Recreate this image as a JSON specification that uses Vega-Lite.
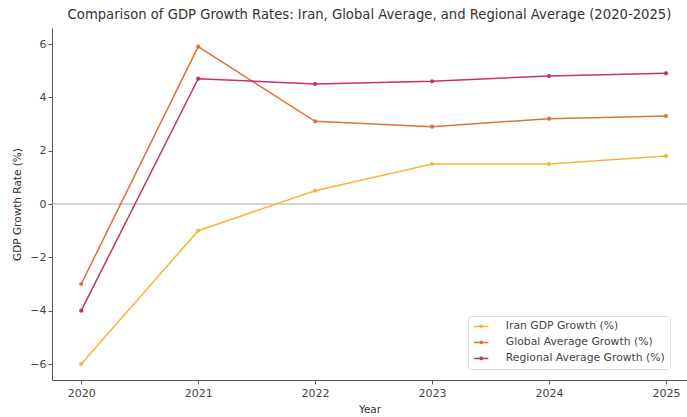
{
  "$schema": "https://vega.github.io/schema/vega-lite/v6.json",
  "autosize": "none",
  "width": 635,
  "height": 352,
  "padding": {"left": 52, "top": 28, "right": 0, "bottom": 37},
  "background": "white",
  "title": {
    "text": "Comparison of GDP Growth Rates: Iran, Global Average, and Regional Average (2020-2025)",
    "font": "DejaVu Sans",
    "fontSize": 13.2,
    "fontWeight": "normal",
    "color": "#333333",
    "anchor": "middle",
    "offset": 6
  },
  "config": {
    "view": {"stroke": null},
    "font": "DejaVu Sans",
    "axis": {
      "grid": false,
      "domainColor": "#555555",
      "tickColor": "#555555",
      "tickSize": 4,
      "labelColor": "#444444",
      "labelFontSize": 11,
      "labelFont": "DejaVu Sans",
      "titleFont": "DejaVu Sans",
      "titleFontSize": 10.5,
      "titleFontWeight": "normal",
      "titleColor": "#333333"
    }
  },
  "data": {
    "values": [
      {"Year": 2020, "series": "Iran GDP Growth (%)", "value": -6.0},
      {"Year": 2021, "series": "Iran GDP Growth (%)", "value": -1.0},
      {"Year": 2022, "series": "Iran GDP Growth (%)", "value": 0.5},
      {"Year": 2023, "series": "Iran GDP Growth (%)", "value": 1.5},
      {"Year": 2024, "series": "Iran GDP Growth (%)", "value": 1.5},
      {"Year": 2025, "series": "Iran GDP Growth (%)", "value": 1.8},
      {"Year": 2020, "series": "Global Average Growth (%)", "value": -3.0},
      {"Year": 2021, "series": "Global Average Growth (%)", "value": 5.9},
      {"Year": 2022, "series": "Global Average Growth (%)", "value": 3.1},
      {"Year": 2023, "series": "Global Average Growth (%)", "value": 2.9},
      {"Year": 2024, "series": "Global Average Growth (%)", "value": 3.2},
      {"Year": 2025, "series": "Global Average Growth (%)", "value": 3.3},
      {"Year": 2020, "series": "Regional Average Growth (%)", "value": -4.0},
      {"Year": 2021, "series": "Regional Average Growth (%)", "value": 4.7},
      {"Year": 2022, "series": "Regional Average Growth (%)", "value": 4.5},
      {"Year": 2023, "series": "Regional Average Growth (%)", "value": 4.6},
      {"Year": 2024, "series": "Regional Average Growth (%)", "value": 4.8},
      {"Year": 2025, "series": "Regional Average Growth (%)", "value": 4.9}
    ]
  },
  "layer": [
    {
      "data": {"values": [{"zero": 0}]},
      "mark": {"type": "rule", "color": "#aaaaaa", "strokeWidth": 1},
      "encoding": {"y": {"field": "zero", "type": "quantitative"}}
    },
    {
      "mark": {"type": "line", "strokeWidth": 1.5, "point": {"size": 18, "filled": true}},
      "encoding": {
        "x": {
          "field": "Year",
          "type": "quantitative",
          "scale": {"domain": [2019.75, 2025.18], "nice": false, "zero": false},
          "axis": {"values": [2020, 2021, 2022, 2023, 2024, 2025], "format": "d", "title": "Year", "labelFlush": false, "titleY": 24, "labelPadding": 3}
        },
        "y": {
          "field": "value",
          "type": "quantitative",
          "scale": {"domain": [-6.6, 6.6], "nice": false},
          "axis": {"values": [-6, -4, -2, 0, 2, 4, 6], "title": "GDP Growth Rate (%)", "labelExpr": "replace(datum.label, '-', '−')", "titleX": -30}
        },
        "color": {
          "field": "series",
          "type": "nominal",
          "sort": ["Iran GDP Growth (%)", "Global Average Growth (%)", "Regional Average Growth (%)"],
          "scale": {
            "domain": ["Iran GDP Growth (%)", "Global Average Growth (%)", "Regional Average Growth (%)"],
            "range": ["#f5b53d", "#e0703a", "#c8306b"]
          },
          "legend": {
            "title": null,
            "orient": "none",
            "legendX": 416,
            "legendY": 288,
            "labelFont": "DejaVu Sans",
            "labelFontSize": 10.8,
            "labelColor": "#444444",
            "labelOffset": 22,
            "symbolType": "M-1.1,0H2.5M0.45,0A0.27,0.27,0,1,1,0.99,0A0.27,0.27,0,1,1,0.45,0Z",
            "symbolSize": 64,
            "symbolStrokeWidth": 1.5,
            "rowPadding": 4,
            "padding": 5,
            "strokeColor": "#dddddd",
            "fillColor": "white",
            "cornerRadius": 3,
            "encode": {
              "symbols": {"update": {"fill": {"scale": "color", "field": "value"}}}
            }
          }
        }
      }
    }
  ]
}
